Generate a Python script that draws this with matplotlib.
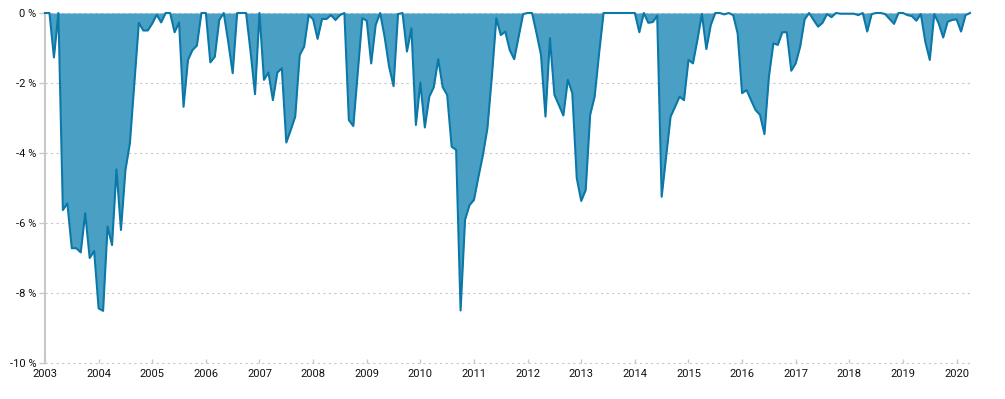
import numpy as np
import matplotlib
matplotlib.use("Agg")
import matplotlib.pyplot as plt

plt.rcParams['font.family'] = ['Roboto', 'DejaVu Sans']

# monthly drawdown in %, starting 2003-01
dd_2003 = [0, 0, -1.27, 0, -5.63, -5.44, -6.72, -6.72, -6.84, -5.72, -7.0, -6.8]
dd_2004 = [-8.44, -8.51, -6.1, -6.63, -4.47, -6.2, -4.49, -3.72, -2.0, -0.28, -0.5, -0.5]
dd_2005 = [-0.3, -0.05, -0.27, 0, 0, -0.55, -0.27, -2.68, -1.34, -1.06, -0.93, 0]
dd_2006 = [0, -1.41, -1.25, -0.2, 0, -0.82, -1.72, 0, 0, 0, -1.1, -2.32]
dd_2007 = [0, -1.91, -1.7, -2.49, -1.7, -1.58, -3.7, -3.34, -2.96, -1.2, -0.96, -0.06]
dd_2008 = [-0.18, -0.74, -0.17, -0.17, -0.06, -0.2, -0.06, 0, -3.06, -3.23, -1.68, -0.15]
dd_2009 = [-0.22, -1.44, -0.34, 0, -0.68, -1.53, -2.09, -0.03, 0, -1.1, -0.44, -3.2]
dd_2010 = [-1.99, -3.27, -2.39, -2.12, -1.32, -2.12, -2.34, -3.82, -3.91, -8.5, -5.91, -5.49]
dd_2011 = [-5.34, -4.68, -4.06, -3.3, -1.82, -0.15, -0.63, -0.53, -1.06, -1.32, -0.68, -0.03]
dd_2012 = [0, 0, -0.58, -1.2, -2.96, -0.72, -2.34, -2.63, -2.93, -1.91, -2.29, -4.72]
dd_2013 = [-5.37, -5.06, -2.91, -2.39, -1.15, 0, 0, 0, 0, 0, 0, 0]
dd_2014 = [0, -0.55, 0, -0.28, -0.26, -0.08, -5.25, -4.1, -2.96, -2.68, -2.39, -2.49]
dd_2015 = [-1.34, -1.44, -0.77, -0.03, -1.03, -0.34, 0, 0, -0.04, 0, -0.06, -0.58]
dd_2016 = [-2.29, -2.2, -2.49, -2.77, -2.91, -3.46, -1.82, -0.87, -0.91, -0.55, -0.55, -1.65]
dd_2017 = [-1.44, -0.96, -0.18, 0, -0.2, -0.39, -0.28, -0.03, -0.12, 0, -0.02, -0.02]
dd_2018 = [-0.02, -0.02, -0.06, 0, -0.53, -0.03, 0, 0, -0.03, -0.17, -0.31, 0]
dd_2019 = [0, -0.06, -0.09, -0.22, -0.03, -0.82, -1.34, -0.03, -0.3, -0.7, -0.25, -0.2]
dd_2020 = [-0.18, -0.53, -0.06, 0]

drawdown = (dd_2003 + dd_2004 + dd_2005 + dd_2006 + dd_2007 + dd_2008 + dd_2009
            + dd_2010 + dd_2011 + dd_2012 + dd_2013 + dd_2014 + dd_2015 + dd_2016
            + dd_2017 + dd_2018 + dd_2019 + dd_2020)
years = list(range(2003, 2021))
y_ticks = [0, -2, -4, -6, -8, -10]

t = 2003 + np.arange(len(drawdown)) / 12.0
dd = np.array(drawdown)

fig = plt.figure(figsize=(10.05, 3.99), dpi=100)
ax = fig.add_axes([45 / 1005, 36 / 399, (970 - 45) / 1005, (363 - 13) / 399])

ax.fill_between(t, dd, 0, color='#4a9fc4', lw=0, zorder=2)
ax.plot(t, dd, color='#0b78a8', lw=1.5, zorder=3, clip_on=False)

ax.set_xlim(t[0], t[-1])
ax.set_ylim(-10, 0)

# dotted grid
for v in y_ticks:
    ax.axhline(v, color='#c8c8c8', lw=0.8, ls=(0, (2, 3)), zorder=1, clip_on=False)

for s in ['top', 'right', 'bottom']:
    ax.spines[s].set_visible(False)
ax.spines['left'].set_color('#c8c8c8')
ax.spines['left'].set_linewidth(1.5)

ax.set_yticks(y_ticks)
ax.set_yticklabels([f'{v} %' for v in y_ticks])
ax.set_xticks(years)
ax.set_xticklabels([str(y) for y in years])
ax.tick_params(axis='y', length=4, width=1, color='#c8c8c8', labelsize=8, labelcolor='#111111', pad=2)
ax.tick_params(axis='x', direction='in', length=3, width=1, color='#c8c8c8', labelsize=8,
               labelcolor='#111111', pad=4)

fig.savefig('out.png', dpi=100)
